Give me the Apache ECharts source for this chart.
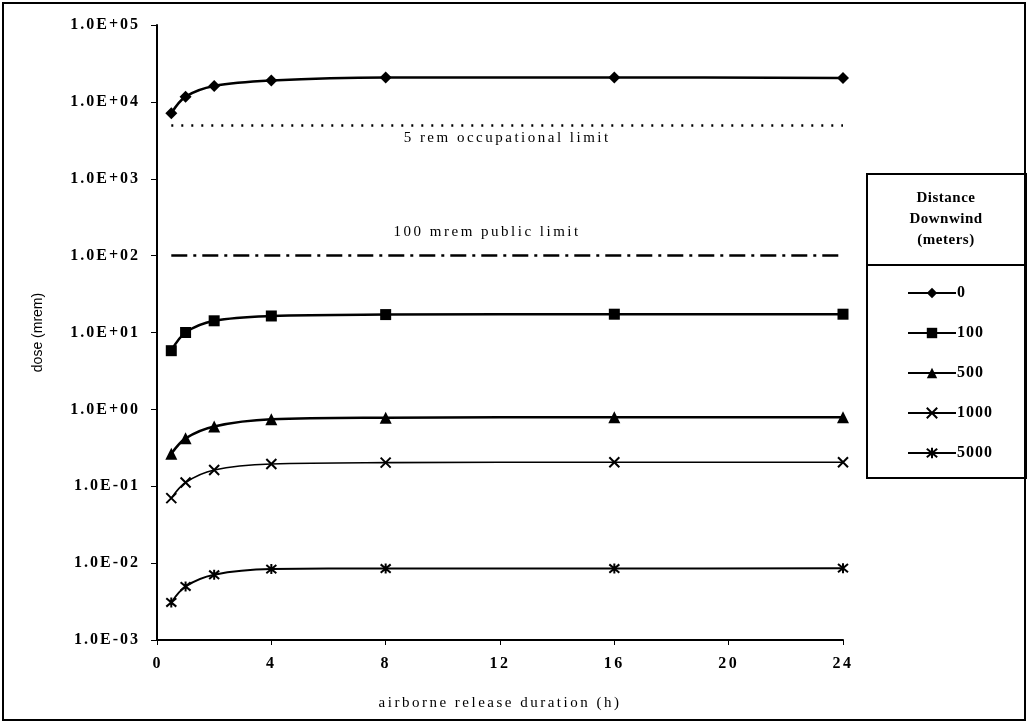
<!DOCTYPE html>
<html>
<head>
<meta charset="utf-8">
<script src="https://cdn.jsdelivr.net/npm/echarts@6/dist/echarts.min.js"></script>
<style>
  html, body { margin: 0; padding: 0; background: #fff; }
  #chart { width: 1029px; height: 725px; }
</style>
</head>
<body>
<div id="chart"></div>
<script>
// release durations (h)
const hours = [0.5, 1, 2, 4, 8, 16, 24];

// dose (mrem) per distance downwind
const distances = ["0", "100", "500", "1000", "5000"];
const dose0 = [7100, 11700, 16100, 19000, 20800, 20800, 20500];
const dose100 = [5.8, 10, 14.2, 16.4, 17.1, 17.3, 17.3];
const dose500 = [0.264, 0.42, 0.6, 0.745, 0.78, 0.79, 0.79];
const dose1000 = [0.07, 0.112, 0.163, 0.195, 0.203, 0.205, 0.205];
const dose5000 = [0.00308, 0.00497, 0.00705, 0.00836, 0.0085, 0.0085, 0.0086];

// reference limits (mrem)
const occupationalLimit = 5000;
const publicLimit = 100;

const yTickLabels = ["1.0E-03", "1.0E-02", "1.0E-01", "1.0E+00", "1.0E+01",
  "1.0E+02", "1.0E+03", "1.0E+04", "1.0E+05"];

const serif = "Liberation Serif, Times New Roman, serif";

const crossPath = "path://M0,0L10,10M10,0L0,10";
const starPath = "path://M0,0L10,10M10,0L0,10M5,-1L5,11";

// the scanned original sets most of its text loosely spaced
const origFillText = CanvasRenderingContext2D.prototype.fillText;
CanvasRenderingContext2D.prototype.fillText = function (text, x, y, w) {
  let sp = "2.5px";
  if (text === "dose (mrem)") sp = "0px";
  else if (text === "Distance" || text === "Downwind" || text === "(meters)") sp = "0.5px";
  else if (distances.indexOf(text) >= 0) sp = "1px";
  else if (yTickLabels.indexOf(text) >= 0) sp = "2px";
  this.letterSpacing = sp;
  const r = w === undefined ? origFillText.call(this, text, x, y) : origFillText.call(this, text, x, y, w);
  this.letterSpacing = "0px";
  return r;
};

function pairs(values) {
  return hours.map(function (h, i) { return [h, values[i]]; });
}

function makeSeries(name, values, symbol, size, width) {
  return {
    name: name,
    type: "line",
    data: pairs(values),
    smooth: 0.35,
    symbol: symbol,
    symbolSize: size,
    showAllSymbol: true,
    lineStyle: { color: "#000", width: width },
    itemStyle: { color: "#000", borderColor: "#000", borderWidth: symbol.indexOf("path") === 0 ? 2 : 0 },
    emphasis: { disabled: true }
  };
}

const chart = echarts.init(document.getElementById("chart"));

const series = [
  makeSeries(distances[0], dose0, "diamond", 12, 2.5),
  makeSeries(distances[1], dose100, "rect", 11, 2.5),
  makeSeries(distances[2], dose500, "triangle", 12, 2.5),
  makeSeries(distances[3], dose1000, crossPath, 10, 1.6),
  makeSeries(distances[4], dose5000, starPath, 10, 2)
];

series[0].markLine = {
  silent: true,
  symbol: "none",
  data: [
    [
      { coord: [hours[0], occupationalLimit] },
      { coord: [24, occupationalLimit] }
    ],
    [
      { coord: [hours[0], publicLimit] },
      { coord: [24, publicLimit] }
    ]
  ]
};
series[0].markLine.data[0][0].lineStyle = { color: "#000", width: 2.5, type: [2, 8] };
series[0].markLine.data[0][0].label = {
  show: true, position: "insideMiddleBottom", formatter: "5 rem occupational limit",
  color: "#000", fontFamily: serif, fontSize: 15, distance: 6
};
series[0].markLine.data[1][0].lineStyle = { color: "#000", width: 2.5, type: [16, 6, 3, 6] };
series[0].markLine.data[1][0].label = {
  show: true, position: "insideMiddleTop", formatter: "100 mrem public limit",
  color: "#000", fontFamily: serif, fontSize: 15, distance: 16, offset: [-20, 0]
};

chart.setOption({
  animation: false,
  backgroundColor: "#fff",
  grid: { left: 157, right: 186, top: 25, bottom: 85, containLabel: false },
  xAxis: {
    type: "value",
    min: 0,
    max: 24,
    interval: 4,
    name: "airborne release duration (h)",
    nameLocation: "middle",
    nameGap: 56,
    nameTextStyle: { color: "#000", fontFamily: serif, fontSize: 15, fontWeight: "normal" },
    axisLine: { lineStyle: { color: "#000", width: 2 } },
    axisTick: { show: true, length: 5, lineStyle: { color: "#000" } },
    axisLabel: { color: "#000", fontFamily: serif, fontSize: 16, fontWeight: "bold", margin: 16 },
    splitLine: { show: false }
  },
  yAxis: {
    type: "log",
    logBase: 10,
    min: 0.001,
    max: 100000,
    name: "dose (mrem)",
    nameLocation: "middle",
    nameGap: 112,
    nameTextStyle: { color: "#000", fontFamily: "Liberation Sans Narrow, Liberation Sans, sans-serif", fontSize: 14 },
    axisLine: { show: true, lineStyle: { color: "#000", width: 2 } },
    axisTick: { show: true, length: 6, lineStyle: { color: "#000" } },
    axisLabel: {
      color: "#000", fontFamily: serif, fontSize: 16, fontWeight: "bold", margin: 17,
      formatter: function (v) {
        const e = Math.round(Math.log10(v));
        return yTickLabels[e + 3] || "";
      }
    },
    splitLine: { show: false }
  },
  legend: {
    orient: "vertical",
    left: 902,
    top: 280,
    itemWidth: 48,
    itemHeight: 13,
    itemGap: 24,
    data: distances,
    selectedMode: false,
    textStyle: { color: "#000", fontFamily: serif, fontSize: 16, fontWeight: "bold", padding: [0, 0, 0, -4] }
  },
  graphic: [
    {
      type: "rect",
      shape: { x: 3, y: 3, width: 1022, height: 717 },
      style: { fill: null, stroke: "#000", lineWidth: 2 }
    },
    {
      type: "rect",
      shape: { x: 867, y: 174, width: 159, height: 91 },
      style: { fill: null, stroke: "#000", lineWidth: 2 }
    },
    {
      type: "rect",
      shape: { x: 867, y: 265, width: 159, height: 213 },
      style: { fill: null, stroke: "#000", lineWidth: 2 }
    },
    {
      type: "text",
      x: 946,
      y: 219,
      style: {
        text: "Distance\nDownwind\n(meters)",
        fill: "#000",
        font: "bold 15px " + serif,
        align: "center",
        verticalAlign: "middle",
        lineHeight: 21
      }
    }
  ],
  series: series
});
</script>
</body>
</html>
